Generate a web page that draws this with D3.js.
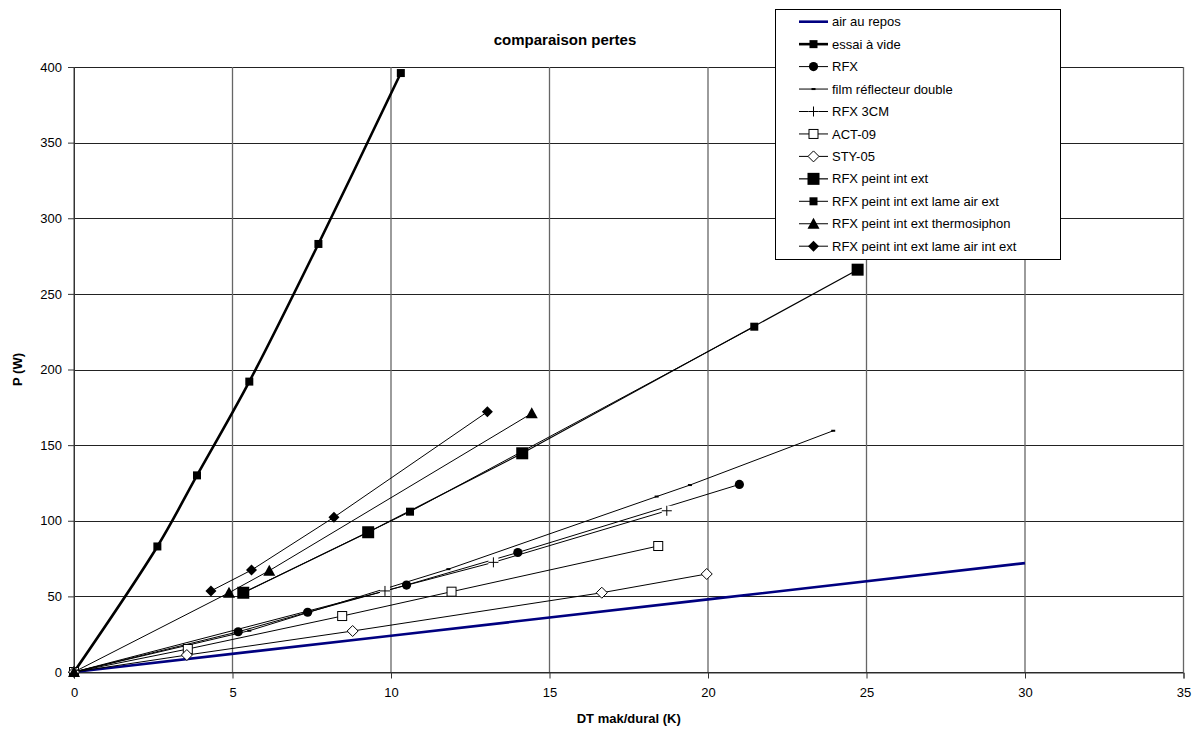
<!DOCTYPE html>
<html>
<head>
<meta charset="utf-8">
<script src="https://cdn.jsdelivr.net/npm/d3@7"></script>
<style>
  body { margin: 0; background: #fff; }
  svg { font-family: "Liberation Sans", Arial, sans-serif; }
</style>
</head>
<body>
<div id="chart"></div>
<script>
//////////////////////////////////////////////////////////////////////////////
// data (DT in K, P in W)

const xTicks = [0, 5, 10, 15, 20, 25, 30, 35];
const yTicks = [0, 50, 100, 150, 200, 250, 300, 350, 400];

const airRepos = [[0, 0], [10, 24], [20, 48], [30, 72]];
const essaiVide = [[0, 0], [2.63, 83], [3.88, 130], [5.53, 192], [7.71, 283], [10.31, 396]];
const rfx = [[0, 0], [5.18, 26.6], [7.37, 39.5], [10.49, 57.5], [14.0, 79], [20.99, 124]];
const film = [[0, 0], [5.53, 27.3], [11.81, 68], [18.38, 116], [19.43, 123.6], [23.95, 159.5]];
const rfx3cm = [[0, 0], [9.81, 53.6], [13.23, 72.5], [18.7, 106.6]];
const act09 = [[0, 0], [3.59, 15.2], [8.46, 37], [11.91, 53.1], [18.43, 83.3]];
const sty05 = [[0, 0], [3.56, 11.2], [8.79, 27.1], [16.65, 52.4], [19.96, 64.8]];
const peint = [[5.34, 52.4], [9.28, 92.4], [14.14, 144.6], [24.72, 266]];
const lameExt = [[5.3, 52], [10.6, 106], [21.46, 228.3]];
const thermo = [[0, 0], [4.89, 52.4], [6.16, 67], [14.44, 171]];
const lameIntExt = [[4.32, 53.6], [5.6, 67.4], [8.2, 102.3], [13.04, 172]];

const series = [
  {name: "air au repos", pts: airRepos, color: "#000080", width: 2.6, marker: null},
  {name: "essai à vide", pts: essaiVide, color: "#000", width: 2.6, marker: "sq", smooth: true},
  {name: "RFX", pts: rfx, color: "#000", width: 1, marker: "circle"},
  {name: "film réflecteur double", pts: film, color: "#000", width: 1, marker: "dash"},
  {name: "RFX 3CM", pts: rfx3cm, color: "#000", width: 1, marker: "plus"},
  {name: "ACT-09", pts: act09, color: "#000", width: 1, marker: "osq"},
  {name: "STY-05", pts: sty05, color: "#000", width: 1, marker: "odiamond"},
  {name: "RFX peint int ext", pts: peint, color: "#000", width: 1.2, marker: "bigsq"},
  {name: "RFX peint int ext lame air ext", pts: lameExt, color: "#000", width: 1, marker: "sq"},
  {name: "RFX peint int ext thermosiphon", pts: thermo, color: "#000", width: 1, marker: "tri"},
  {name: "RFX peint int ext lame air int ext", pts: lameIntExt, color: "#000", width: 1, marker: "diamond"}
];

//////////////////////////////////////////////////////////////////////////////
// canvas and scales

const width = 1200, height = 731;
const x = d3.scaleLinear().domain([0, 35]).range([74, 1183.5]);
const y = d3.scaleLinear().domain([0, 400]).range([672, 67]);

const svg = d3.select("#chart").append("svg")
    .attr("width", width)
    .attr("height", height);

// grid
svg.append("g").selectAll("line").data(yTicks).join("line")
    .attr("x1", x(0)).attr("x2", x(35))
    .attr("y1", d => Math.round(y(d)) + 0.5).attr("y2", d => Math.round(y(d)) + 0.5)
    .attr("stroke", "#222").attr("stroke-width", 1);
svg.append("g").selectAll("line").data(xTicks).join("line")
    .attr("x1", d => x(d)).attr("x2", d => x(d))
    .attr("y1", y(400)).attr("y2", y(0))
    .attr("stroke", "#666").attr("stroke-width", 1.3);

// axes
const xAxis = d3.axisBottom(x).tickValues(xTicks).tickSize(6).tickPadding(9);
const yAxis = d3.axisLeft(y).tickValues(yTicks).tickSize(6).tickPadding(6);

svg.append("g")
    .attr("transform", `translate(0,${Math.round(y(0)) + 0.5})`)
    .call(xAxis)
    .call(g => g.selectAll("text").attr("font-size", 13).attr("fill", "#000").attr("font-family", null))
    .call(g => g.selectAll("line, path").attr("stroke", "#333"));

svg.append("g")
    .attr("transform", `translate(${x(0)},0)`)
    .call(yAxis)
    .call(g => g.selectAll("text").attr("font-size", 13).attr("fill", "#000").attr("font-family", null))
    .call(g => g.selectAll("line, path").attr("stroke", "#333"));

// titles
svg.append("text")
    .attr("x", 565).attr("y", 45)
    .attr("text-anchor", "middle")
    .attr("font-weight", "bold").attr("font-size", 15)
    .text("comparaison pertes");

svg.append("text")
    .attr("x", (x(0) + x(35)) / 2).attr("y", 723)
    .attr("text-anchor", "middle")
    .attr("font-weight", "bold").attr("font-size", 13)
    .text("DT mak/dural (K)");

svg.append("text")
    .attr("transform", `translate(22,${(y(0) + y(400)) / 2}) rotate(-90)`)
    .attr("text-anchor", "middle")
    .attr("font-weight", "bold").attr("font-size", 13)
    .text("P (W)");

//////////////////////////////////////////////////////////////////////////////
// markers

function drawMarker(g, type, cx, cy) {
  switch (type) {
    case "sq":
      g.append("rect").attr("x", cx - 4).attr("y", cy - 4).attr("width", 8).attr("height", 8).attr("fill", "#000");
      break;
    case "bigsq":
      g.append("rect").attr("x", cx - 6).attr("y", cy - 6).attr("width", 12).attr("height", 12).attr("fill", "#000");
      break;
    case "circle":
      g.append("circle").attr("cx", cx).attr("cy", cy).attr("r", 4.6).attr("fill", "#000");
      break;
    case "dash":
      g.append("rect").attr("x", cx - 2).attr("y", cy - 1).attr("width", 4).attr("height", 2).attr("fill", "#000");
      break;
    case "plus":
      g.append("rect").attr("x", cx - 5).attr("y", cy - 5).attr("width", 10).attr("height", 10).attr("fill", "#fff");
      g.append("path").attr("d", `M${cx - 5},${cy}H${cx + 5}M${cx},${cy - 5}V${cy + 5}`)
          .attr("stroke", "#000").attr("stroke-width", 1);
      break;
    case "osq":
      g.append("rect").attr("x", cx - 4.5).attr("y", cy - 4.5).attr("width", 9).attr("height", 9)
          .attr("fill", "#fff").attr("stroke", "#000").attr("stroke-width", 1);
      break;
    case "odiamond":
      g.append("path").attr("d", `M${cx},${cy - 5.5}L${cx + 5.5},${cy}L${cx},${cy + 5.5}L${cx - 5.5},${cy}Z`)
          .attr("fill", "#fff").attr("stroke", "#000").attr("stroke-width", 1);
      break;
    case "diamond":
      g.append("path").attr("d", `M${cx},${cy - 5.5}L${cx + 5.5},${cy}L${cx},${cy + 5.5}L${cx - 5.5},${cy}Z`)
          .attr("fill", "#000");
      break;
    case "tri":
      g.append("path").attr("d", `M${cx},${cy - 6}L${cx + 6},${cy + 5}L${cx - 6},${cy + 5}Z`)
          .attr("fill", "#000");
      break;
  }
}

//////////////////////////////////////////////////////////////////////////////
// series

const lineStraight = d3.line().x(d => x(d[0])).y(d => y(d[1]));
const lineSmooth = d3.line().x(d => x(d[0])).y(d => y(d[1])).curve(d3.curveCatmullRom.alpha(0.5));

const plot = svg.append("g");
series.forEach(s => {
  const g = plot.append("g");
  g.append("path")
      .attr("d", (s.smooth ? lineSmooth : lineStraight)(s.pts))
      .attr("fill", "none")
      .attr("stroke", s.color)
      .attr("stroke-width", s.width);
  if (s.marker) s.pts.forEach(p => drawMarker(g, s.marker, x(p[0]), y(p[1])));
});

//////////////////////////////////////////////////////////////////////////////
// legend

const legend = svg.append("g");
legend.append("rect")
    .attr("x", 775.5).attr("y", 9.5).attr("width", 285).attr("height", 250)
    .attr("fill", "#fff").attr("stroke", "#000").attr("stroke-width", 1);

series.forEach((s, i) => {
  const ly = 21.7 + i * 22.45;
  const g = legend.append("g");
  g.append("line")
      .attr("x1", 799).attr("x2", 828).attr("y1", ly).attr("y2", ly)
      .attr("stroke", s.color).attr("stroke-width", s.width);
  if (s.marker) drawMarker(g, s.marker, 813.5, ly);
  g.append("text")
      .attr("x", 832).attr("y", ly + 4.6)
      .attr("font-size", 13)
      .text(s.name);
});
</script>
</body>
</html>
